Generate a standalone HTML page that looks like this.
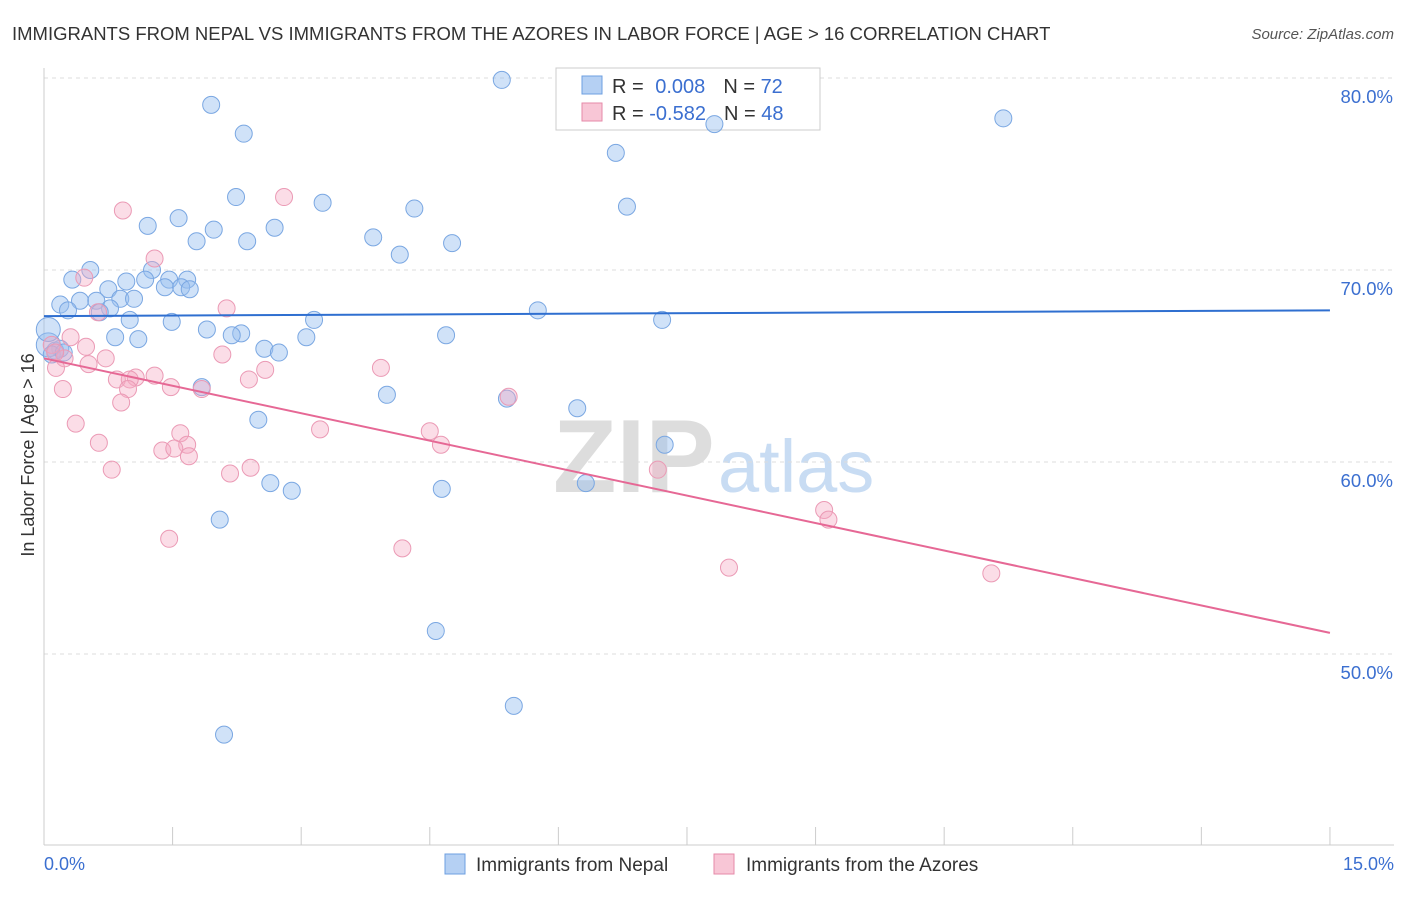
<!DOCTYPE html>
<html><head><meta charset="utf-8"><style>
body{margin:0;background:#fff;font-family:"Liberation Sans",sans-serif}
svg text{font-family:"Liberation Sans",sans-serif}
</style></head><body>
<svg width="1406" height="892" id="c">
<text x="12" y="40" font-size="18.5" fill="#333">IMMIGRANTS FROM NEPAL VS IMMIGRANTS FROM THE AZORES IN LABOR FORCE | AGE &gt; 16 CORRELATION CHART</text>
<text x="1394" y="39" font-size="15" fill="#555" text-anchor="end" font-style="italic">Source: ZipAtlas.com</text>
<text x="34" y="455" font-size="18" fill="#333" transform="rotate(-90 34 455)" text-anchor="middle">In Labor Force | Age &gt; 16</text>
<g><text x="553" y="492" font-size="104" font-family="Liberation Serif" fill="#ddd" font-weight="bold">ZIP</text><text x="718" y="492" font-size="74" fill="#c8dcf3">atlas</text></g>
<g id="grid"></g>
<g>
<rect x="556" y="68" width="264" height="62" fill="#fff" stroke="#ccc"/>
<rect x="582" y="76" width="20" height="18" fill="#b5d0f3" stroke="#6d9fe0"/>
<text x="612" y="93" font-size="20" fill="#333">R = <tspan fill="#3b6fd0" dx="6">0.008</tspan><tspan dx="18">N = </tspan><tspan fill="#3b6fd0">72</tspan></text>
<rect x="582" y="103" width="20" height="18" fill="#f8c6d6" stroke="#e68aa8"/>
<text x="612" y="120" font-size="20" fill="#333">R = <tspan fill="#3b6fd0">-0.582</tspan><tspan dx="18">N = </tspan><tspan fill="#3b6fd0">48</tspan></text>
</g>
<g id="pts"></g><g id="lines"></g>
<g>
<rect x="445" y="854" width="20" height="20" fill="#b5d0f3" stroke="#6d9fe0"/>
<text x="476" y="871" font-size="19" fill="#333">Immigrants from Nepal</text>
<rect x="714" y="854" width="20" height="20" fill="#f8c6d6" stroke="#e68aa8"/>
<text x="746" y="871" font-size="19" fill="#333">Immigrants from the Azores</text>
</g>
<text x="44" y="870" font-size="18" fill="#3b6fd0">0.0%</text>
<text x="1394" y="870" font-size="18" fill="#3b6fd0" text-anchor="end">15.0%</text>
</svg>
<script>
const yTicks=[80,70,60,50];
const xTicks=[0,1.5,3,4.5,6,7.5,9,10.5,12,13.5,15];
const nepalX=[5.34,1.95,2.33,7.82,11.19,6.67,2.24,3.25,4.32,6.80,1.21,1.57,1.98,2.69,1.78,2.37,3.84,4.76,4.15,0.54,1.26,0.33,0.96,1.46,1.67,1.18,0.75,1.41,1.60,1.70,0.19,0.42,0.61,0.89,1.05,0.28,0.77,0.65,5.76,1.00,1.49,3.15,7.21,1.90,2.30,2.19,0.83,1.10,3.06,4.69,0.13,2.57,2.74,0.19,1.84,4.00,5.40,6.22,2.50,7.24,2.64,2.89,4.64,6.32,2.05,4.57,5.48,2.10,0.05,0.05,0.09,0.23];
const nepalY=[79.9,78.6,77.1,77.6,77.9,76.1,73.8,73.5,73.2,73.3,72.3,72.7,72.1,72.2,71.5,71.5,71.7,71.4,70.8,70.0,70.0,69.5,69.4,69.5,69.5,69.5,69.0,69.1,69.1,69.0,68.2,68.4,68.4,68.5,68.5,67.9,68.0,67.8,67.9,67.4,67.3,67.4,67.4,66.9,66.7,66.6,66.5,66.4,66.5,66.6,65.8,65.9,65.7,65.9,63.9,63.5,63.3,62.8,62.2,60.9,58.9,58.5,58.6,58.9,57.0,51.2,47.3,45.8,66.1,66.9,65.6,65.7];
const azoresX=[0.92,2.80,1.29,0.47,2.13,0.63,0.31,0.09,0.24,0.49,0.72,0.52,0.14,2.08,3.93,2.58,2.39,0.85,1.07,1.29,1.00,1.48,1.84,0.22,0.98,0.90,5.42,3.22,4.50,0.37,1.59,0.64,1.67,4.63,1.38,1.52,1.69,0.79,2.17,2.41,7.16,9.10,9.15,1.46,4.18,7.99,11.05,0.13];
const azoresY=[73.1,73.8,70.6,69.6,68.0,67.8,66.5,66.1,65.4,66.0,65.4,65.1,64.9,65.6,64.9,64.8,64.3,64.3,64.4,64.5,64.3,63.9,63.8,63.8,63.8,63.1,63.4,61.7,61.6,62.0,61.5,61.0,60.9,60.9,60.6,60.7,60.3,59.6,59.4,59.7,59.6,57.5,57.0,56.0,55.5,54.5,54.2,65.7];
const nepalTrend=[67.6,67.9];
const azoresTrend=[65.4,51.1];
const NS="http://www.w3.org/2000/svg";
const X=v=>44+v*85.73, Y=v=>78+(80-v)*19.2;
function mk(t,a,p){const e=document.createElementNS(NS,t);for(const k in a)e.setAttribute(k,a[k]);p.appendChild(e);return e;}
const g=document.getElementById('grid');
yTicks.forEach(v=>{const l=mk('line',{x1:44,x2:1394,y1:Y(v),y2:Y(v),stroke:'#ddd','stroke-dasharray':'4,4'},g);


const t=mk('text',{x:1393,y:Y(v)+25,'font-size':18.5,fill:'#3b6fd0','text-anchor':'end'},g);t.textContent=v.toFixed(1)+'%';

});
const ax=mk('line',{x1:44,x2:44,y1:68,y2:845,stroke:'#ccc'},g);


const bx=mk('line',{x1:44,x2:1394,y1:845,y2:845,stroke:'#ccc'},g);


xTicks.forEach(v=>{const t=mk('line',{x1:X(v),x2:X(v),y1:827,y2:845,stroke:'#ccc'},g);

});
const p=document.getElementById('pts');
nepalX.forEach((v,i)=>{const big=(i>=68&&i<=69);const c=mk('circle',{cx:X(v),cy:Y(nepalY[i]),r:big?12:8.5,fill:'rgba(150,190,240,0.45)',stroke:'#7aa7e2','stroke-width':1},p);

});
azoresX.forEach((v,i)=>{const c=mk('circle',{cx:X(v),cy:Y(azoresY[i]),r:8.5,fill:'rgba(245,170,195,0.4)',stroke:'#eb9ab5','stroke-width':1},p);

});
const L=document.getElementById('lines');
const l1=mk('line',{x1:X(0),x2:X(15),y1:Y(nepalTrend[0]),y2:Y(nepalTrend[1]),stroke:'#2f6fd0','stroke-width':2},L);


const l2=mk('line',{x1:X(0),x2:X(15),y1:Y(azoresTrend[0]),y2:Y(azoresTrend[1]),stroke:'#e66895','stroke-width':2},L);


</script>
</body></html>
